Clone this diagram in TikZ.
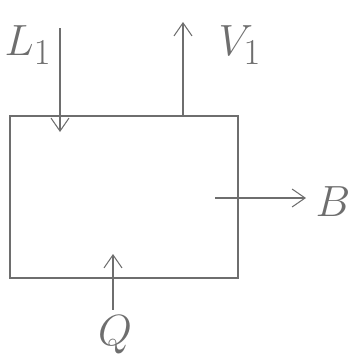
\documentclass[tikz,border=0pt]{standalone}
\usepackage{amsmath,amssymb}
\usepackage{xcolor}
\usetikzlibrary{calc,arrows.meta,positioning}
\definecolor{pencil}{HTML}{6E6E6E}
\tikzset{
  ar/.style={-{Straight Barb[length=2.6mm,width=3.6mm]},semithick,pencil},
  stage/.style={draw=pencil,semithick,minimum width=4.56cm,minimum height=3.24cm,inner sep=0pt},
  lbl/.style={font=\Huge,text=pencil}
}
\begin{document}
\begin{tikzpicture}[x=0.02cm,y=-0.02cm]
\useasboundingbox (0,0) rectangle (357,362);
\node[stage] (reb) at (124,197) {};
% streams
\coordinate (lin) at (60,28);
\coordinate (lend) at (60,132);
\draw[ar] (lin) -- (lend);
\node[lbl] (L) at (28,45) {$L_1$};
\coordinate (vout) at (183,22);
\draw[ar] (reb.north -| vout) -- (vout);
\node[lbl] (V) at (240,45) {$V_1$};
\coordinate (bout) at (306,198);
\draw[ar] (215,198) -- (bout);
\node[lbl] (B) at (333,202) {$B$};
\node[lbl] (Q) at (115,335) {$Q$};
\coordinate (qin) at (113,254);
\draw[ar] (Q.north -| qin) -- (qin);
\end{tikzpicture}
\end{document}
